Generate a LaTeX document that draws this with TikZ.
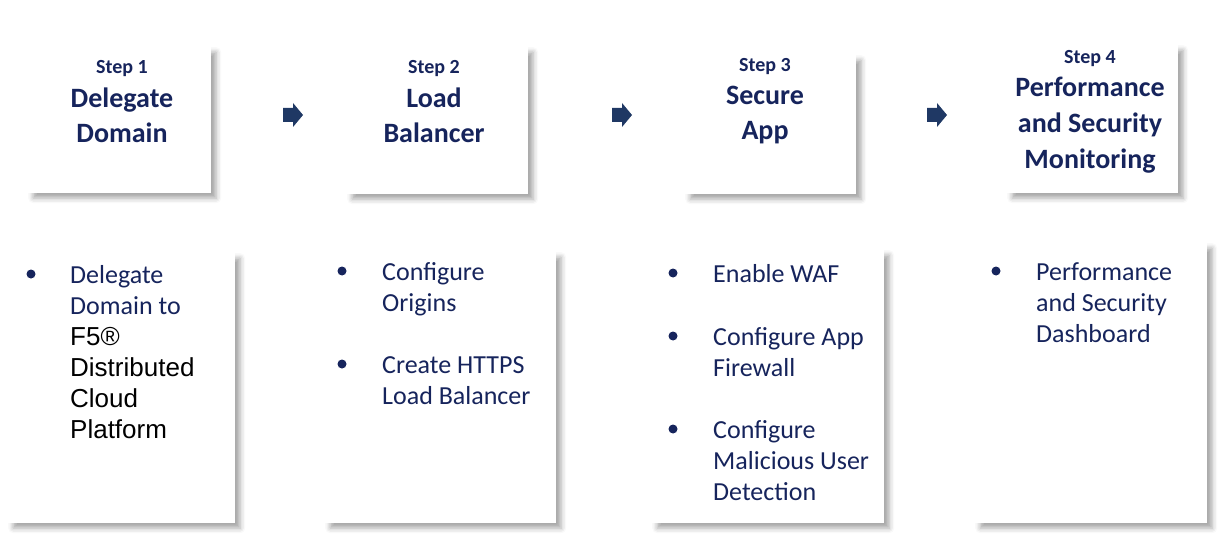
\documentclass[tikz,border=0pt]{standalone}
\usepackage{fontspec}
\setmainfont{Carlito}
\newfontfamily\arialfont{Liberation Sans}
\usetikzlibrary{shadows.blur, positioning}
\definecolor{f5-navy}{RGB}{22,36,92}
\definecolor{f5-arrow}{RGB}{31,56,100}

\tikzset{
  card/.style={fill=white, anchor=north west, inner sep=0pt,
    blur shadow={shadow xshift=5pt, shadow yshift=-5pt, shadow blur radius=5pt, shadow opacity=35}},
  steplabel/.style={anchor=base, inner sep=0pt, text=f5-navy, font=\bfseries\fontsize{20}{24}\selectfont},
  steptitle/.style={anchor=base, align=center, inner sep=0pt, text=f5-navy, font=\bfseries\fontsize{28}{35.5}\selectfont},
  bulletdot/.style={circle, fill=f5-navy, inner sep=0pt, minimum size=9pt},
  itemtext/.style={anchor=base west, align=left, inner sep=0pt, text=f5-navy, font=\fontsize{26}{31}\selectfont},
}

\begin{document}
\begin{tikzpicture}[x=1pt, y=-1pt]
  \useasboundingbox (0,0) rectangle (1230,548);

  % step 1 - delegate domain
  \node[card, minimum width=183pt, minimum height=146pt] (head1) at (28,47) {};
  \node[steplabel] (step1) at (122,74) {Step 1};
  \node[steptitle] (title1) at (122,143) {Delegate\\Domain};

  % step 2 - load balancer
  \node[card, minimum width=181pt, minimum height=147pt] (head2) at (347,47) {};
  \node[steplabel] (step2) at (434,74) {Step 2};
  \node[steptitle] (title2) at (434,143) {Load\\Balancer};

  % step 3 - secure app
  \node[card, minimum width=171pt, minimum height=139pt] (head3) at (685,55) {};
  \node[steplabel] (step3) at (765,72) {Step 3};
  \node[steptitle] (title3) at (765,140) {Secure\\App};

  % step 4 - monitoring
  \node[card, minimum width=171pt, minimum height=148pt] (head4) at (1007,45) {};
  \node[steplabel] (step4) at (1090,64) {Step 4};
  \node[steptitle] (title4) at (1090,168) {Performance\\and Security\\Monitoring};

  % block arrows between the steps
  \foreach \ax/\name in {293/arrow1, 622/arrow2, 937/arrow3} {
    \coordinate (\name) at (\ax,115);
    \fill[f5-arrow, shift={(\ax,115)}] (-10,-7) -- (0,-7) -- (0,-12) -- (10,0)
      -- (0,12) -- (0,7) -- (-10,7) -- cycle;
  }

  % task cards
  \node[card, minimum width=227pt, minimum height=270pt] (task1) at (8,253) {};
  \node[card, minimum width=231pt, minimum height=271pt] (task2) at (325,252) {};
  \node[card, minimum width=232pt, minimum height=273pt] (task3) at (652,250) {};
  \node[card, minimum width=232pt, minimum height=280pt] (task4) at (975,243) {};

  % task 1
  \node[bulletdot] (dot11) at (31,274) {};
  \node[itemtext] (item11) at (70,438) {Delegate\\Domain to\\
    \textcolor{black}{\arialfont F5®}\\\textcolor{black}{\arialfont Distributed}\\
    \textcolor{black}{\arialfont Cloud}\\\textcolor{black}{\arialfont Platform}};

  % task 2
  \node[bulletdot] (dot21) at (342,271) {};
  \node[itemtext] (item21) at (382,311) {Configure\\Origins};
  \node[bulletdot] (dot22) at (342,364) {};
  \node[itemtext] (item22) at (382,404) {Create HTTPS\\Load Balancer};

  % task 3
  \node[bulletdot] (dot31) at (673,273) {};
  \node[itemtext] (item31) at (713,282) {Enable WAF};
  \node[bulletdot] (dot32) at (673,336) {};
  \node[itemtext] (item32) at (713,376) {Configure App\\Firewall};
  \node[bulletdot] (dot33) at (673,429) {};
  \node[itemtext] (item33) at (713,500) {Configure\\Malicious User\\Detection};

  % task 4
  \node[bulletdot] (dot41) at (996,271) {};
  \node[itemtext] (item41) at (1036,342) {Performance\\and Security\\Dashboard};
\end{tikzpicture}
\end{document}
